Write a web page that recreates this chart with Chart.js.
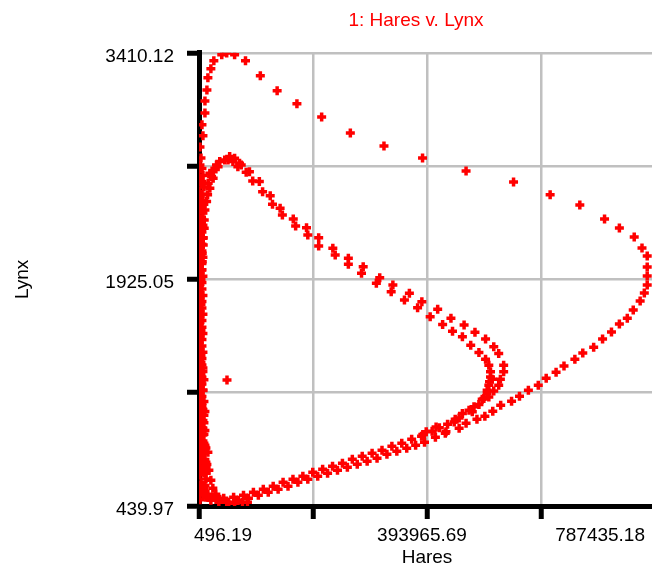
<!DOCTYPE html>
<html>
<head>
<meta charset="utf-8">
<title>Hares v. Lynx</title>
<script src="https://cdn.jsdelivr.net/npm/chart.js@4.4.0/dist/chart.umd.min.js"></script>
<style>
  html, body { margin: 0; padding: 0; background: #fff; overflow: hidden; }
  #wrap { width: 660px; height: 565px; }
</style>
</head>
<body>
<div id="wrap"><canvas id="myChart" width="660" height="565"></canvas></div>
<script>
// axis ticks (only every other one carries a label)
var xTicks = [496.19, 197230.94, 393965.69, 590700.43, 787435.18];
var xTickLabels = ['496.19', '', '393965.69', '', '787435.18'];
var yTicks = [439.97, 1182.51, 1925.05, 2667.58, 3410.12];
var yTickLabels = ['439.97', '', '1925.05', '', '3410.12'];

// big first cycle: up the left side, over the top, round the right
var outerHares = [3910, 2203, 7324, 5617, 10738, 10738, 14152, 15859, 20980, 26101, 39757, 48292, 61948, 80725,
  106330, 135349, 169489, 212164, 261667, 319705, 386278, 461386, 543322, 606481, 657691, 700366, 725971, 751576,
  765000, 774000, 774000, 774000, 774000, 769000, 761818, 749869, 739627, 725971, 712315, 696952, 681589, 662812,
  649156, 630379, 616723, 599653, 585997, 568927, 553564, 539908, 521131, 507475, 493819, 480163, 461386, 449437,
  425539, 408469, 389692];
var outerLynx = [2721, 2793, 2866, 2938, 3016, 3095, 3167, 3246, 3305, 3358, 3397, 3408, 3397, 3358,
  3259, 3161, 3076, 2990, 2885, 2800, 2721, 2636, 2564, 2479, 2413, 2321, 2262, 2203,
  2131, 2078, 2006, 1947, 1888, 1836, 1783, 1724, 1671, 1632, 1580, 1534, 1481, 1442,
  1402, 1357, 1317, 1278, 1232, 1199, 1160, 1127, 1101, 1061, 1028, 1009, 983, 950,
  917, 891, 858];

// smaller cycles that close in on the bend near 500k hares
var innerHares = [30710, 36343, 44878, 53413, 61948, 70483, 67581, 81920, 87553, 93186, 104623, 110256, 123400,
  127326, 140470, 144396, 163173, 167270, 186047, 188266, 207043, 207043, 231453, 235550, 258253, 258253, 283858,
  280956, 306561, 312365, 332166, 335068, 355040, 363575, 377743, 385083, 412395, 399422, 420930, 435269, 438000,
  457972, 455070, 469409, 476749, 495014, 483577, 509182, 495014, 517717, 500647, 526252, 503549, 526252, 506280,
  520619, 517717, 500647, 509182, 497745, 492112, 500647, 483577, 475042, 466507, 455070, 442609, 429465, 415297,
  402836, 392594, 503549, 501842, 497745, 489210, 472140, 449437, 440902, 386790, 409664, 426734,
  27808, 33441, 24906, 22175, 50511, 59046, 73385,
  19273, 24906, 16371, 19273, 15347, 13640, 10738, 9543, 9543, 7836, 7836, 6129, 6129, 5105];
var innerLynx = [2675, 2697, 2708, 2730, 2719, 2686, 2664, 2627, 2631, 2570, 2566, 2500, 2474,
  2417, 2391, 2347, 2321, 2275, 2264, 2216, 2198, 2144, 2129, 2085, 2063, 2024, 2008,
  1965, 1899, 1936, 1844, 1888, 1790, 1834, 1739, 1778, 1729, 1680, 1630, 1670, 1586,
  1626, 1549, 1494, 1578, 1534, 1446, 1483, 1402, 1440, 1363, 1363, 1319, 1319, 1271,
  1271, 1232, 1232, 1193, 1177, 1145, 1155, 1105, 1090, 1068, 1046, 1009, 976, 952,
  930, 926, 1286, 1254, 1199, 1140, 1057, 1017, 991, 908, 958, 926,
  2654, 2664, 2631, 2599, 2708, 2697, 2675,
  2621, 2588, 2555, 2522, 2479, 2435, 2380, 2314, 2260, 2198, 2150, 2096, 2041, 1986];

// the two rows along the bottom, heading back to the left
var lowerHares = [384571, 367501, 350431, 333361, 316291, 299221, 282151, 265081, 248011, 230941, 213871, 196801,
  179731, 162661, 145591, 128521, 111451, 94381, 77311, 60241, 43171, 27808, 15859, 9031,
  374329, 358966, 341896, 324826, 307756, 290686, 273616, 256546, 239476, 222406, 205336, 188266,
  171196, 154126, 137056, 119986, 102916, 85846, 68776, 51706, 34636, 20980, 12445];
var lowerLynx = [897, 878, 851, 832, 805, 786, 766, 746, 720, 700, 681, 661,
  635, 615, 595, 569, 550, 530, 510, 497, 491, 497, 517, 556,
  838, 819, 799, 779, 753, 733, 714, 694, 674, 655, 635, 615,
  595, 569, 550, 530, 510, 491, 477, 464, 464, 477, 504];

// the crowded column on the lynx axis, the corner and one stray point
var edgeHares = [2203, 496, 2203, 3910, 496, 2203, 3910, 2203, 496, 2203, 3910, 2203, 496, 2203, 3910, 2203, 496,
  2203, 3910, 2203, 496, 2203, 3910, 2203, 496, 2203, 3910, 2203, 496, 2203, 3910, 2203, 496, 2203, 3910, 2203,
  496, 2203, 3910, 2203, 496, 2203, 3910, 2203, 496, 2203, 3910, 2203, 496, 2203, 3910, 2203, 496, 2203,
  5617, 7324, 5617, 9031, 5617, 7324, 5617, 7324, 5617, 7324, 5617, 7324, 5617, 5617, 7324, 5617, 5617, 7324,
  5617, 5617, 7324, 5617, 5617, 7324, 5617, 5617, 7324, 5617, 5617, 7324, 5617, 5617, 7324, 5617, 5617, 7324,
  5617, 5617, 7324, 9031, 5617, 7324, 9031, 7324, 10738, 9031, 7324, 10738, 9031, 12445, 10738, 9031, 12445,
  3910, 7324, 3910, 9031, 3910, 7324, 3910, 9031, 5617, 10738, 3910, 7324, 9031, 3910, 10738, 7324, 3910,
  9031, 12445, 7324, 3910, 10738, 14152, 7324, 12445,
  10738, 15859, 12445, 17566, 20980, 24394, 29515, 36343, 48292, 61948, 75604, 84139,
  48804];
var edgeLynx = [2675, 2633, 2587, 2548, 2502, 2468, 2421, 2390, 2338, 2305, 2259, 2219, 2175, 2140, 2088, 2055, 2010,
  1970, 1925, 1891, 1839, 1806, 1760, 1720, 1675, 1642, 1590, 1556, 1511, 1471, 1426, 1393, 1341, 1307, 1262, 1222,
  1177, 1143, 1092, 1058, 1013, 973, 928, 894, 842, 809, 764, 724, 679, 645, 593, 559, 514, 481,
  2652, 2606, 2566, 2530, 2484, 2441, 2404, 2360, 2318, 2280, 2236, 2195, 2155, 2111, 2070, 2030, 1988, 1945,
  1905, 1862, 1820, 1781, 1737, 1697, 1655, 1612, 1571, 1531, 1488, 1447, 1407, 1364, 1321, 1283, 1240, 1197,
  1158, 1114, 1073, 1034, 990, 949, 910, 866, 825, 785, 742, 700, 660, 617, 575, 535, 498,
  1380, 1345, 1300, 1268, 1236, 1200, 1160, 1125, 1098, 1060, 1030, 1001, 985, 950, 935, 905, 870,
  851, 820, 795, 770, 745, 712, 690, 655,
  838, 792, 727, 674, 609, 556, 517, 484, 464, 458, 464, 464,
  1265];

var fontFam = "'Liberation Sans', Arial, sans-serif";

var allHares = [].concat(outerHares, innerHares, lowerHares, edgeHares);
var allLynx = [].concat(outerLynx, innerLynx, lowerLynx, edgeLynx);
var points = allHares.map(function (h, i) { return {x: h, y: allLynx[i]}; });

// the plot runs a little past the right edge of the window, so pull the
// title and the last hares label back into view
var nudge = {
  id: 'nudge',
  afterLayout: function (chart) {
    if (chart.titleBlock) {
      chart.titleBlock.left -= 11;
      chart.titleBlock.right -= 11;
    }
  },
  beforeDraw: function (chart) {
    var items = chart.scales.x.getLabelItems();
    var last = items[items.length - 1];
    if (last) {
      var t = last.options.translation;
      last.options.translation = [t[0] - 5, t[1]];
    }
  }
};

var ctx = document.getElementById('myChart');
var myChart = new Chart(ctx, {
  type: 'scatter',
  data: {
    datasets: [{
      label: 'Lynx',
      data: points,
      pointStyle: 'cross',
      pointRadius: 4.5,
      pointBorderWidth: 3.5,
      borderColor: '#ff0000',
      backgroundColor: '#ff0000'
    }]
  },
  options: {
    responsive: false,
    devicePixelRatio: 1,
    animation: false,
    layout: { padding: 0, autoPadding: false },
    plugins: {
      legend: { display: false },
      tooltip: { enabled: false },
      title: {
        display: true,
        text: '1: Hares v. Lynx',
        color: '#ff0000',
        fullSize: false,
        font: { family: fontFam, size: 19, weight: 'normal', lineHeight: 1.2 },
        padding: { top: 9, bottom: 21 }
      }
    },
    scales: {
      x: {
        type: 'linear',
        position: 'bottom',
        min: xTicks[0],
        max: xTicks[xTicks.length - 1],
        afterBuildTicks: function (scale) {
          scale.ticks = xTicks.map(function (v) { return {value: v}; });
        },
        afterFit: function (scale) { scale.height = 59; },
        grid: { color: '#c0c0c0', lineWidth: 2.5, tickColor: '#000', tickWidth: 5, tickLength: 13 },
        border: { color: '#000', width: 5 },
        ticks: {
          callback: function (v, i) { return xTickLabels[i]; },
          align: 'inner',
          labelOffset: -5,
          padding: 5,
          maxRotation: 0,
          autoSkip: false,
          color: '#000',
          font: { family: fontFam, size: 19 }
        },
        title: {
          display: true,
          text: 'Hares',
          color: '#000',
          font: { family: fontFam, size: 19, lineHeight: 0.8 },
          padding: 0
        }
      },
      y: {
        type: 'linear',
        position: 'left',
        min: yTicks[0],
        max: yTicks[yTicks.length - 1],
        afterBuildTicks: function (scale) {
          scale.ticks = yTicks.map(function (v) { return {value: v}; });
        },
        afterFit: function (scale) { scale.width = 199; },
        grid: { color: '#c0c0c0', lineWidth: 2.5, tickColor: '#000', tickWidth: 5, tickLength: 12 },
        border: { color: '#000', width: 5 },
        ticks: {
          callback: function (v, i) { return yTickLabels[i]; },
          padding: 13,
          labelOffset: 3.5,
          autoSkip: false,
          color: '#000',
          font: { family: fontFam, size: 19 }
        },
        title: {
          display: true,
          text: 'Lynx',
          color: '#000',
          font: { family: fontFam, size: 19 },
          padding: { top: 11.6, bottom: 0 }
        }
      }
    }
  },
  plugins: [nudge]
});
</script>
</body>
</html>
